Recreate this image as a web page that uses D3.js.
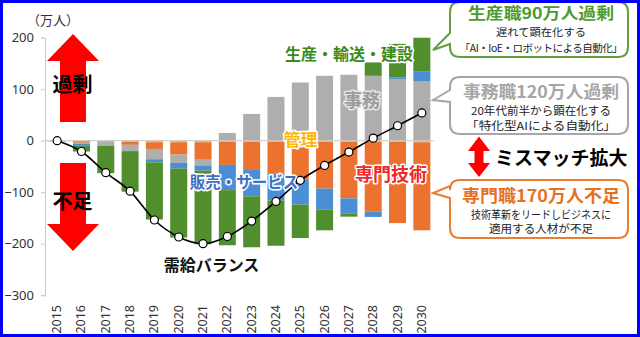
<!DOCTYPE html>
<html>
<head>
<meta charset="utf-8">
<script src="https://cdn.jsdelivr.net/npm/d3@7"></script>
<style>
  html, body { margin: 0; padding: 0; background: #fff; }
  svg { display: block; }
  text { font-family: "Noto Sans CJK JP", "Noto Sans", sans-serif; }
</style>
</head>
<body>
<svg id="chart" width="640" height="337"></svg>
<script>
// Occupational supply/demand gap (万人), 2015–2030
const years = ["2015","2016","2017","2018","2019","2020","2021","2022","2023","2024","2025","2026","2027","2028","2029","2030"];
const kanri   = [-1, -1, -1, -2, -3, -3, -3, -2, -2, -2, -2, -2, -2, -2, -2, -3];          // 管理
const senmon  = [-0.5, -3, -1, -6, -13, -24, -34, -45, -55, -62, -74, -91, -110, -136, -158, -171]; // 専門技術
const jimu    = [-0.5, -2, -8, -12, -20, -16, -11, 15, 52, 85, 113, 126, 128, 126, 119, 115]; // 事務
const hanbai  = [0, -4, 0, -2, -6, -11, -10, -49, -51, -52, -48, -41, -29, -10, 4, 19];   // 販売・サービス
const seisan  = [0, -11, -53, -77, -111, -134, -143, -107, -99, -88, -65, -40, -6.5, 26, 65, 93]; // 生産・輸送・建設
const balance = [0, -21, -62, -98, -154, -187, -200, -186, -156, -118, -77, -48, -22, 5, 29, 54]; // 需給バランス
const yTicks  = [200, 100, 0, -100, -200, -300];

const seriesKeys   = ["管理", "専門技術", "事務", "販売・サービス", "生産・輸送・建設"];
const seriesValues = [kanri, senmon, jimu, hanbai, seisan];
const seriesColors = ["#FFC000", "#EC7230", "#AEAEAE", "#4C8ED6", "#518F2E"];

const rows = years.map((yr, i) => {
  const r = { year: yr };
  seriesKeys.forEach((k, j) => { r[k] = seriesValues[j][i]; });
  return r;
});

const svg = d3.select("#chart");
const W = 640, H = 337;

const x = d3.scaleBand().domain(years).range([45, 434]).paddingInner(0.3).paddingOuter(0.15);
const y = d3.scaleLinear().domain([-300, 200]).range([295.2, 37.7]);

// plot clip (values beyond the axis range are cut at the frame)
svg.append("clipPath").attr("id", "plotClip")
  .append("rect").attr("x", 45).attr("y", y(200)).attr("width", 395).attr("height", y(-300) - y(200));

// y axis
const yAxis = svg.append("g").attr("transform", "translate(45,0)")
  .call(d3.axisLeft(y).tickValues(yTicks).tickSize(4).tickPadding(7).tickFormat(d3.format("d")));
yAxis.select(".domain").attr("stroke", "#c8c8c8");
yAxis.selectAll(".tick line").attr("stroke", "#c8c8c8");
yAxis.selectAll(".tick text").attr("fill", "#333").style("font-size", "13px")
  .style("font-family", "'Noto Sans', sans-serif");

svg.append("text").attr("x", 27).attr("y", 25).attr("fill", "#333")
  .style("font-size", "13px").text("（万人）");

// stacked bars
const stack = d3.stack().keys(seriesKeys).offset(d3.stackOffsetDiverging).order(d3.stackOrderNone);
const stacked = stack(rows);

const barG = svg.append("g").attr("clip-path", "url(#plotClip)");
barG.selectAll("g.series").data(stacked).join("g")
  .attr("class", "series")
  .attr("fill", (d, i) => seriesColors[i])
  .selectAll("rect").data(d => d).join("rect")
  .attr("x", d => x(d.data.year))
  .attr("width", x.bandwidth())
  .attr("y", d => y(Math.max(d[0], d[1])))
  .attr("height", d => Math.abs(y(d[0]) - y(d[1])));

// zero line
svg.append("line").attr("x1", 45).attr("x2", 434).attr("y1", y(0)).attr("y2", y(0))
  .attr("stroke", "#c8c8c8").attr("stroke-width", 1);

// x axis labels (rotated)
svg.append("g").selectAll("text").data(years).join("text")
  .attr("transform", d => `translate(${x(d) + x.bandwidth() / 2 + 4},305) rotate(-90)`)
  .attr("text-anchor", "end")
  .attr("fill", "#333")
  .style("font-size", "12.5px")
  .style("font-family", "'Noto Sans', sans-serif")
  .text(d => d);

// balance line
const lineGen = d3.line().x((d, i) => x(years[i]) + x.bandwidth() / 2).y(d => y(d)).curve(d3.curveMonotoneX);
svg.append("path").datum(balance).attr("d", lineGen)
  .attr("fill", "none").attr("stroke", "#000").attr("stroke-width", 1.6);
svg.append("g").selectAll("circle").data(balance).join("circle")
  .attr("cx", (d, i) => x(years[i]) + x.bandwidth() / 2)
  .attr("cy", d => y(d))
  .attr("r", 4)
  .attr("fill", "#fff").attr("stroke", "#000").attr("stroke-width", 1.2);

// red surplus / shortage arrows
function arrow(cx, tipY, baseY, endY, headW, shaftW) {
  return `M${cx},${tipY} L${cx + headW / 2},${baseY} L${cx + shaftW / 2},${baseY} L${cx + shaftW / 2},${endY} ` +
         `L${cx - shaftW / 2},${endY} L${cx - shaftW / 2},${baseY} L${cx - headW / 2},${baseY} Z`;
}
svg.append("path").attr("d", arrow(73, 34, 61, 122, 52, 26)).attr("fill", "#FF0000");
svg.append("path").attr("d", arrow(73, 251, 224, 163, 52, 26)).attr("fill", "#FF0000");
svg.append("text").attr("x", 72.5).attr("y", 85).attr("dy", "0.36em").attr("text-anchor", "middle")
  .style("font-size", "20px").style("font-weight", "bold").attr("fill", "#000").text("過剰");
svg.append("text").attr("x", 72.5).attr("y", 202).attr("dy", "0.36em").attr("text-anchor", "middle")
  .style("font-size", "20px").style("font-weight", "bold").attr("fill", "#000").text("不足");

// series labels inside the plot
const inLabels = [
  { t: "生産・輸送・建設", x: 349, y: 54, c: "#3A8A1E", s: 16, halo: "#fff" },
  { t: "事務", x: 362, y: 100.5, c: "#9C9C9C", s: 18, halo: "#e6e6e6" },
  { t: "管理", x: 300.5, y: 140, c: "#FFB800", s: 17, halo: "#fff" },
  { t: "販売・サービス", x: 244, y: 182.5, c: "#3F6EC6", s: 15.5, halo: "#fff" },
  { t: "専門技術", x: 391, y: 175, c: "#F02828", s: 18, halo: "#fff" },
  { t: "需給バランス", x: 211.5, y: 265, c: "#111", s: 16, halo: "none" }
];
svg.append("g").selectAll("text").data(inLabels).join("text")
  .attr("x", d => d.x).attr("y", d => d.y).attr("dy", "0.36em")
  .attr("text-anchor", "middle")
  .attr("fill", d => d.c)
  .attr("stroke", d => d.halo).attr("stroke-width", 3).attr("stroke-linejoin", "round")
  .attr("paint-order", "stroke")
  .style("font-size", d => d.s + "px").style("font-weight", "bold")
  .text(d => d.t);

// callout boxes with a pointer on the left side
function callout(x0, y0, x1, y1, r, pTop, pBot, tipX, tipY) {
  return `M${x0 + r},${y0} L${x1 - r},${y0} Q${x1},${y0} ${x1},${y0 + r} L${x1},${y1 - r} Q${x1},${y1} ${x1 - r},${y1} ` +
         `L${x0 + r},${y1} Q${x0},${y1} ${x0},${y1 - r} L${x0},${pBot} L${tipX},${tipY} L${x0},${pTop} ` +
         `L${x0},${y0 + r} Q${x0},${y0} ${x0 + r},${y0} Z`;
}
const boxes = [
  { y0: 2, y1: 57, pTop: 33, pBot: 44, tipX: 433, tipY: 50, c: "#62A03E",
    lines: [
      { t: "生産職90万人過剰", y: 13.5, s: 15.5, b: true, c: "#4E9A2C", w: 146 },
      { t: "遅れて顕在化する", y: 32.5, s: 10.5, c: "#222", w: 90 },
      { t: "「AI・IoE・ロボットによる自動化」", y: 48, s: 10.5, c: "#222", ls: -0.5 }
    ] },
  { y0: 77, y1: 134, pTop: 90, pBot: 102, tipX: 433, tipY: 100, c: "#A6A6A6",
    lines: [
      { t: "事務職120万人過剰", y: 92, s: 17, b: true, c: "#A6A6A6", w: 156 },
      { t: "20年代前半から顕在化する", y: 111, s: 11, c: "#222", w: 140 },
      { t: "「特化型AIによる自動化」", y: 126, s: 11, c: "#222", w: 150 }
    ] },
  { y0: 180, y1: 238, pTop: 186, pBot: 198, tipX: 433, tipY: 193, c: "#EC7C30",
    lines: [
      { t: "専門職170万人不足", y: 195.5, s: 17, b: true, c: "#E8701F", w: 158 },
      { t: "技術革新をリードしビジネスに", y: 215, s: 11, c: "#222", w: 140 },
      { t: "適用する人材が不足", y: 229.5, s: 11, c: "#222", w: 104 }
    ] }
];
boxes.forEach(b => {
  svg.append("path").attr("d", callout(450, b.y0, 628, b.y1, 10, b.pTop, b.pBot, b.tipX, b.tipY))
    .attr("fill", "#fff").attr("stroke", b.c).attr("stroke-width", 2);
  svg.append("g").selectAll("text").data(b.lines).join("text")
    .each(function (d) {
      const t = d3.select(this);
      if (d.w) {
        t.attr("x", 541 - d.w / 2).attr("textLength", d.w).attr("lengthAdjust", "spacingAndGlyphs");
      } else {
        t.attr("x", 541).attr("text-anchor", "middle").style("letter-spacing", d.ls + "px");
      }
    })
    .attr("y", d => d.y).attr("dy", "0.36em")
    .attr("fill", d => d.c)
    .style("font-size", d => d.s + "px").style("font-weight", d => d.b ? "bold" : "normal")
    .text(d => d.t);
});

// mismatch double arrow
svg.append("path")
  .attr("d", "M479,136.5 L490,151 L483.5,151 L483.5,163 L490,163 L479,177 L468,163 L474.5,163 L474.5,151 L468,151 Z")
  .attr("fill", "#FF0000");
svg.append("text").attr("x", 495).attr("y", 158).attr("dy", "0.36em")
  .style("font-size", "19px").style("font-weight", "bold").attr("fill", "#000").text("ミスマッチ拡大");

// outer frame
svg.append("rect").attr("x", 1.5).attr("y", 1.5).attr("width", W - 3).attr("height", H - 3)
  .attr("fill", "none").attr("stroke", "#0000FF").attr("stroke-width", 3);
</script>
</body>
</html>
